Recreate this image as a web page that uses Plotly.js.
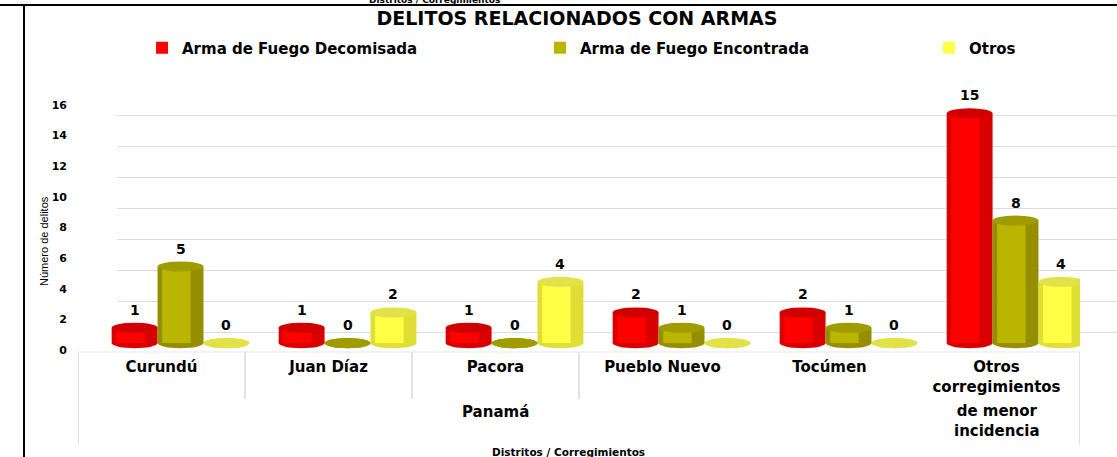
<!DOCTYPE html>
<html>
<head>
<meta charset="utf-8">
<script src="https://cdn.plot.ly/plotly-3.0.1.min.js"></script>
<style>html,body{margin:0;padding:0;background:#fff;}#chart{width:1117px;height:457px;}</style>
</head>
<body>
<div id="chart"></div>
<script>
// ---- data ----
const categories = ['Curundú', 'Juan Díaz', 'Pacora', 'Pueblo Nuevo', 'Tocúmen', 'Otros<br>corregimientos'];
const decomisada = [1, 1, 1, 2, 2, 15];
const encontrada = [5, 0, 0, 1, 1, 8];
const otros = [0, 2, 4, 0, 0, 4];
const seriesNames = ['Arma de Fuego Decomisada', 'Arma de Fuego Encontrada', 'Otros'];
const yTicks = [0, 2, 4, 6, 8, 10, 12, 14, 16];
const groupLabels = ['Panamá', 'de menor<br>incidencia'];
const groupCenters = [2, 5];   // category index at the centre of each group
const chartTitle = 'DELITOS RELACIONADOS CON ARMAS';
const yTitle = 'Número de delitos';
const xTitle = 'Distritos / Corregimientos';

// ---- styles ----
const W = 1117, H = 457;
const mainColors = ['#FF0000', '#BAB500', '#FFFF45'];
const edgeColors = ['#D80000', '#958F00', '#DEDE34'];
const capColors  = ['#D00000', '#A09C00', '#E2E248'];
const FONT = 'DejaVu Sans, Verdana, sans-serif';
const bw = 0.275, shift = 0.114, capH = 0.33;
const legendIds = ['legend', 'legend2', 'legend3'];
const legendX = [142, 540, 929];

const series = [decomisada, encontrada, otros];
const xIdx = categories.map((_, i) => i);

const traces = [];
// dummy trace to create the back-wall grid subplot (drawn first)
traces.push({type: 'scatter', x: [], y: [], xaxis: 'x', yaxis: 'y', showlegend: false, hoverinfo: 'skip'});

const shapes = [];
const annotations = [];

series.forEach((vals, k) => {
  const off = shift - 1.5 * bw + k * bw;
  traces.push({
    type: 'bar', x: xIdx, y: vals, xaxis: 'x2', yaxis: 'y2',
    width: bw, offset: off, marker: {color: edgeColors[k], line: {width: 0}},
    showlegend: false, hoverinfo: 'skip', name: seriesNames[k]
  });
  traces.push({
    type: 'bar', x: xIdx, y: vals, xaxis: 'x2', yaxis: 'y2',
    width: bw * 0.62, offset: off + bw * 0.1, marker: {color: mainColors[k], line: {width: 0}},
    name: seriesNames[k], showlegend: true, legend: legendIds[k]
  });
  vals.forEach((v, i) => {
    const x0 = i + off, x1 = i + off + bw;
    shapes.push({type: 'circle', xref: 'x2', yref: 'y2', x0: x0, x1: x1, y0: -capH, y1: capH,
      fillcolor: edgeColors[k], line: {width: 0}, layer: 'between'});
    shapes.push({type: 'circle', xref: 'x2', yref: 'y2', x0: x0, x1: x1, y0: v - capH, y1: v + capH,
      fillcolor: capColors[k], line: {width: 0}, layer: 'above'});
    annotations.push({xref: 'x2', yref: 'y2', x: (x0 + x1) / 2, y: v, yshift: 18, text: String(v),
      showarrow: false, yanchor: 'middle', font: {family: FONT, size: 14, weight: 700, color: '#000'}});
  });
});

// second level category labels
groupLabels.forEach((g, j) => {
  annotations.push({xref: 'x2', yref: 'paper', x: groupCenters[j], y: 1 - (j === 0 ? 412 : 421) / H,
    text: g, showarrow: false, yanchor: 'middle',
    font: {family: FONT, size: 15, weight: 700, color: '#000'}});
});
// axis titles
annotations.push({xref: 'paper', yref: 'paper', x: 568 / W, y: 1 - 452 / H, text: xTitle, showarrow: false,
  yanchor: 'middle', font: {family: FONT, size: 10.5, weight: 700, color: '#000'}});
annotations.push({xref: 'paper', yref: 'paper', x: 434 / W, y: 1, text: xTitle, showarrow: false,
  yanchor: 'middle', font: {family: FONT, size: 9, weight: 700, color: '#000'}});
annotations.push({xref: 'paper', yref: 'paper', x: 44 / W, y: 1 - 241 / H, text: yTitle, showarrow: false,
  textangle: -90, xanchor: 'center', yanchor: 'middle',
  font: {family: 'Liberation Sans Narrow, Liberation Sans, sans-serif', size: 11, color: '#000'}});

// category dividers & floor edge
const divColor = '#C4C4C4';
[[-0.5, 445], [0.5, 399], [1.5, 399], [2.5, 399], [5.5, 445]].forEach(d => {
  shapes.push({type: 'line', xref: 'x2', yref: 'paper', x0: d[0], x1: d[0], y0: 1 - 352 / H, y1: 1 - d[1] / H,
    line: {color: divColor, width: 1}});
});
shapes.push({type: 'line', xref: 'x2', yref: 'paper', x0: -0.5, x1: 5.5, y0: 1 - 352 / H, y1: 1 - 352 / H,
  line: {color: '#E6E6E6', width: 1}});
// frame lines
shapes.push({type: 'line', xref: 'paper', yref: 'paper', x0: 0, x1: 1, y0: 1 - 5 / H, y1: 1 - 5 / H,
  line: {color: '#000', width: 2}});
shapes.push({type: 'line', xref: 'paper', yref: 'paper', x0: 24 / W, x1: 24 / W, y0: 0, y1: 1 - 5 / H,
  line: {color: '#000', width: 2}});

const legendStyle = (x) => ({orientation: 'h', x: x / W, xanchor: 'left', y: 1 - 48 / H, yanchor: 'middle',
  font: {family: FONT, size: 15, weight: 700, color: '#000'}, bgcolor: 'rgba(0,0,0,0)', borderwidth: 0});

const layout = {
  width: W, height: H,
  margin: {l: 0, r: 0, t: 0, b: 0},
  paper_bgcolor: '#fff', plot_bgcolor: 'rgba(0,0,0,0)',
  barmode: 'overlay',
  title: {text: chartTitle, x: 577 / W, xanchor: 'center', y: 1 - 18 / H, yanchor: 'middle',
    font: {family: FONT, size: 19, weight: 700, color: '#000'}},
  showlegend: true,
  legend: legendStyle(legendX[0]),
  legend2: legendStyle(legendX[1]),
  legend3: legendStyle(legendX[2]),
  xaxis: {domain: [117 / W, 1], range: [0, 1], showticklabels: false, showgrid: false, zeroline: false,
    showline: false, ticks: '', anchor: 'y', fixedrange: true},
  yaxis: {domain: [1 - 339 / H, 1 - 85 / H], range: [-0.45, 16], tickvals: yTicks, showticklabels: false,
    showgrid: true, gridcolor: '#DCDCDC', gridwidth: 1, zeroline: false, showline: false, ticks: '',
    anchor: 'x', fixedrange: true},
  xaxis2: {domain: [78 / W, 1080 / W], range: [-0.5, 5.5], tickvals: xIdx, ticktext: categories,
    showgrid: false, zeroline: false, showline: false, ticks: '', anchor: 'y2', ticklabelstandoff: 6,
    tickfont: {family: FONT, size: 15, weight: 700, color: '#000'}, fixedrange: true},
  yaxis2: {domain: [1 - 350 / H, 1 - 98 / H], range: [-0.45, 16], tickvals: yTicks,
    showgrid: false, zeroline: false, showline: false, ticks: '', anchor: 'x2', ticklabelstandoff: 10,
    ticklabelshift: 7,
    tickfont: {family: FONT, size: 11, weight: 700, color: '#000'}, fixedrange: true},
  shapes: shapes,
  annotations: annotations
};

Plotly.newPlot('chart', traces, layout, {displayModeBar: false, staticPlot: true});
</script>
</body>
</html>
